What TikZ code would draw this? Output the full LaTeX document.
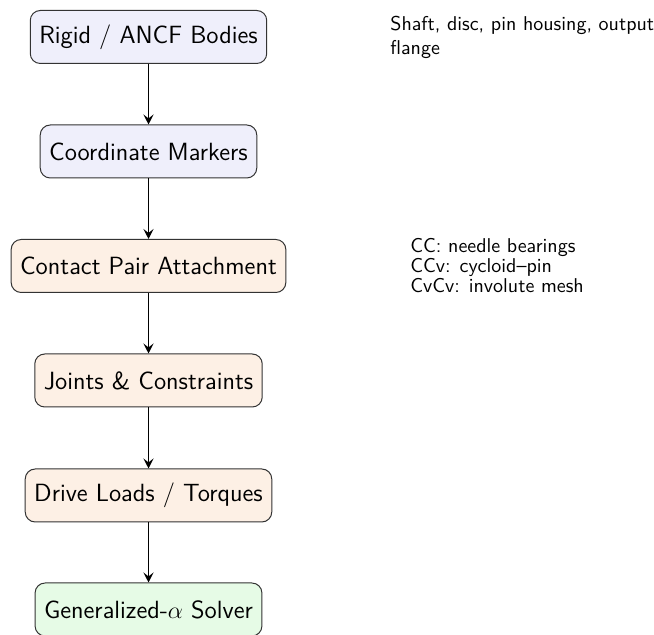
\documentclass[tikz,border=0pt]{standalone}
\usetikzlibrary{arrows.meta}
\definecolor{bluefill}{HTML}{EFEFFB}
\definecolor{peachfill}{HTML}{FDF0E5}
\definecolor{greenfill}{HTML}{E6FBE6}
\tikzset{
  flowbox/.style={draw=black!80, rounded corners=5pt, font=\sffamily\fontsize{12.45}{15}\selectfont,
    inner xsep=4.5pt, minimum height=26.5pt, line width=0.5pt},
  flowarrow/.style={-{Stealth[length=5pt,width=5pt,inset=2pt]}, line width=0.5pt},
  note/.style={font=\sffamily\normalsize, align=left, anchor=west}
}
\begin{document}
\begin{tikzpicture}[x=0.5pt,y=-0.5pt]
\useasboundingbox (0,0) rectangle (654,635);
\node[flowbox, fill=bluefill]  (bodies)   at (148.5,37)    {Rigid / ANCF Bodies};
\node[flowbox, fill=bluefill]  (markers)  at (148.5,151.5) {Coordinate Markers};
\node[flowbox, fill=peachfill] (contact)  at (148.5,266)   {Contact Pair Attachment};
\node[flowbox, fill=peachfill] (joints)   at (148.5,380.5) {Joints \& Constraints};
\node[flowbox, fill=peachfill] (drive)    at (148.5,495.5) {Drive Loads / Torques};
\node[flowbox, fill=greenfill] (solver)   at (148.5,609.5) {Generalized-$\alpha$ Solver};
\draw[flowarrow] (bodies) -- (markers);
\draw[flowarrow] (markers) -- (contact);
\draw[flowarrow] (contact) -- (joints);
\draw[flowarrow] (joints) -- (drive);
\draw[flowarrow] (drive) -- (solver);
\node[note, text width=140pt, inner sep=0pt] (bodynote) at (390,37)
  {Shaft, disc, pin housing, output flange};
\node[note, inner sep=0pt] (contactnote) at (410,266)
  {CC: needle bearings\\[-2pt]CCv: cycloid--pin\\[-2pt]CvCv: involute mesh};
\end{tikzpicture}
\end{document}
